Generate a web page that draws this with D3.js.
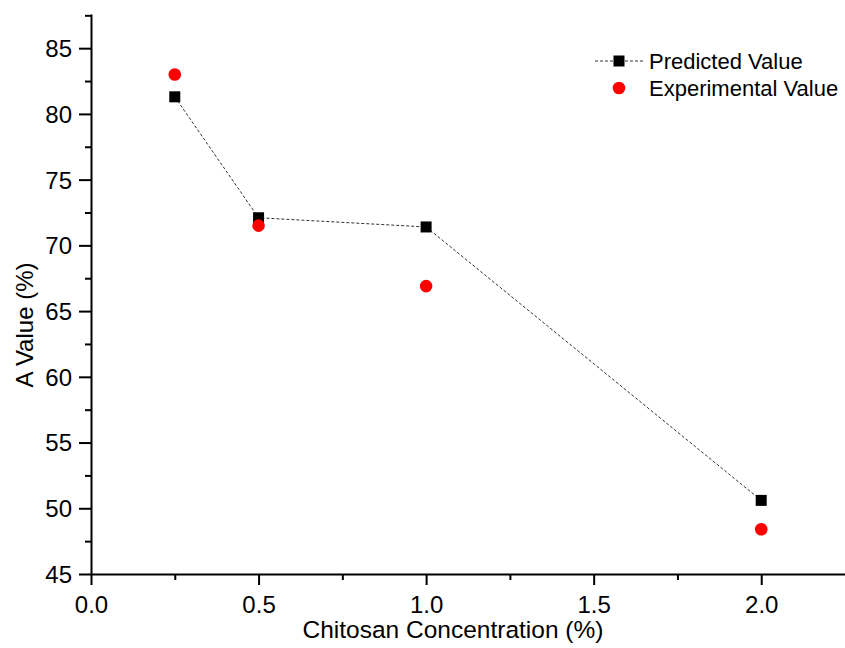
<!DOCTYPE html>
<html>
<head>
<meta charset="utf-8">
<script src="https://cdn.jsdelivr.net/npm/d3@7"></script>
<style>
  body { margin: 0; background: #fff; }
  text { font-family: Arial, "Liberation Sans", sans-serif; fill: #000; }
</style>
</head>
<body>
<svg id="chart" width="845" height="648"></svg>
<script>
// chitosan concentration (%)
var concentrations = [0.25, 0.5, 1.0, 2.0];
var predicted = [81.3, 72.1, 71.4, 50.6];
var experimental = [83.0, 71.5, 66.9, 48.4];
var xTicks = [0, 0.5, 1.0, 1.5, 2.0];
var yTicks = [45, 50, 55, 60, 65, 70, 75, 80, 85];
var seriesNames = ['Predicted Value', 'Experimental Value'];

var svg = d3.select('#chart');
var margin = {left: 91, top: 14, right: 0, bottom: 74};
var width = 845 - margin.left - margin.right,
    height = 648 - margin.top - margin.bottom;

var x = d3.scaleLinear().domain([0, 2.25]).range([0, width]);
var y = d3.scaleLinear().domain([45, 87.6]).range([height, 0]);

var g = svg.append('g')
    .attr('transform', 'translate(' + margin.left + ',' + margin.top + ')');

// minor ticks first, then majors on top
var xMinor = d3.range(0.25, 2.25, 0.5);
var yMinor = d3.range(47.5, 87.6, 5);

g.append('g')
    .attr('transform', 'translate(0,' + height + ')')
    .call(d3.axisBottom(x).tickValues(xMinor).tickSize(6).tickFormat(''))
    .call(function (a) { a.select('.domain').remove(); });

g.append('g')
    .call(d3.axisLeft(y).tickValues(yMinor).tickSize(6).tickFormat(''))
    .call(function (a) { a.select('.domain').remove(); });

var xAxis = g.append('g')
    .attr('transform', 'translate(0,' + height + ')')
    .call(d3.axisBottom(x).tickValues(xTicks).tickSize(11).tickSizeOuter(0)
        .tickFormat(d3.format('.1f')));

var yAxis = g.append('g')
    .call(d3.axisLeft(y).tickValues(yTicks).tickSize(12).tickSizeOuter(0));

g.selectAll('.tick line, .domain')
    .attr('stroke', '#000')
    .attr('stroke-width', 2);

xAxis.selectAll('.tick text')
    .style('font-size', '24px')
    .attr('dy', null)
    .attr('y', 39);

yAxis.selectAll('.tick text')
    .style('font-size', '24px')
    .attr('x', -19)
    .attr('dy', '0.35em');

// axis titles
svg.append('text')
    .attr('x', 453)
    .attr('y', 638)
    .attr('text-anchor', 'middle')
    .style('font-size', '24.5px')
    .text('Chitosan Concentration (%)');

svg.append('text')
    .attr('transform', 'translate(33,325) rotate(-90)')
    .attr('text-anchor', 'middle')
    .style('font-size', '24px')
    .text('A Value (%)');

// predicted line + squares
var line = d3.line()
    .x(function (d, i) { return x(concentrations[i]); })
    .y(function (d) { return y(d); });

g.append('path')
    .datum(predicted)
    .attr('d', line)
    .attr('fill', 'none')
    .attr('stroke', '#333')
    .attr('stroke-width', 1)
    .attr('stroke-dasharray', '3,2');

var sq = 11;
g.selectAll('.pred')
    .data(predicted)
    .enter().append('rect')
    .attr('class', 'pred')
    .attr('x', function (d, i) { return x(concentrations[i]) - sq / 2; })
    .attr('y', function (d) { return y(d) - sq / 2; })
    .attr('width', sq)
    .attr('height', sq)
    .attr('fill', '#000');

g.selectAll('.exp')
    .data(experimental)
    .enter().append('circle')
    .attr('class', 'exp')
    .attr('cx', function (d, i) { return x(concentrations[i]); })
    .attr('cy', function (d) { return y(d); })
    .attr('r', 6.3)
    .attr('fill', '#ff0000');

// legend
var legend = svg.append('g').attr('transform', 'translate(619,61)');
legend.append('line')
    .attr('x1', -24).attr('x2', 24)
    .attr('stroke', '#333')
    .attr('stroke-dasharray', '3,2');
legend.append('rect')
    .attr('x', -sq / 2).attr('y', -sq / 2)
    .attr('width', sq).attr('height', sq)
    .attr('fill', '#000');
legend.append('circle')
    .attr('cy', 27).attr('r', 6.3)
    .attr('fill', '#ff0000');
legend.selectAll('.ltext')
    .data(seriesNames)
    .enter().append('text')
    .attr('class', 'ltext')
    .attr('x', 30)
    .attr('y', function (d, i) { return i * 27; })
    .attr('dy', '0.35em')
    .style('font-size', '22px')
    .text(function (d) { return d; });
</script>
</body>
</html>
